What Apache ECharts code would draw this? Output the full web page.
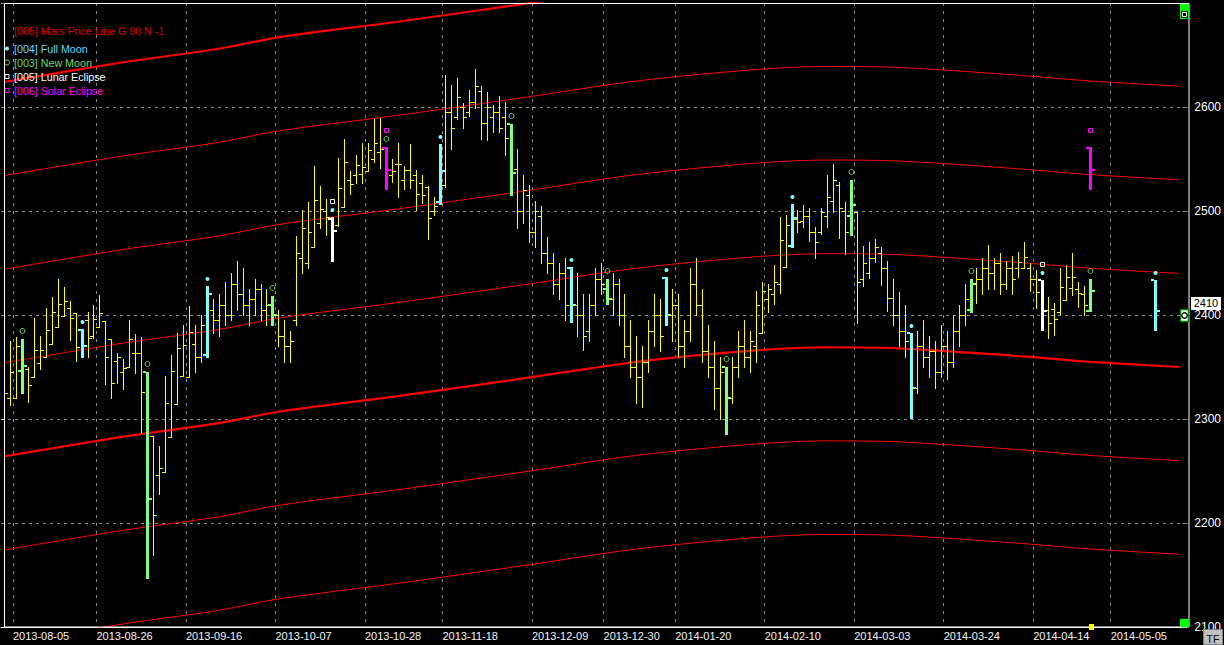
<!DOCTYPE html>
<html><head><meta charset="utf-8">
<script src="https://cdn.jsdelivr.net/npm/echarts/dist/echarts.min.js"></script>
<style>html,body{margin:0;padding:0;background:#000;overflow:hidden}#c{width:1224px;height:645px}</style>
</head><body><div id="c"></div><script>
// ---- categories (trading days) ----
const firstDay = '2013-08-01';
const dayCount = 198;
const holidays = ['2013-08-15','2013-11-01','2013-11-11','2013-12-24','2013-12-25','2013-12-26',
  '2013-12-31','2014-01-01','2014-01-02','2014-04-18','2014-04-21'];
const tickDates = ['2013-08-05','2013-08-26','2013-09-16','2013-10-07','2013-10-28','2013-11-18',
  '2013-12-09','2013-12-30','2014-01-20','2014-02-10','2014-03-03','2014-03-24','2014-04-14','2014-05-05'];
const yMin = 2100, yMax = 2700, yStep = 100;
const lastPrice = 2410;

// ---- price bars [open, high, low, close], index 0 = first trading day ----
const bars = [
[2300,2335,2275,2325],[2320,2375,2313,2345],[2320,2379,2320,2370],[2346,2377,2325,2351],[2348,2350,2316,2333],
[2340,2397,2340,2366],[2354,2380,2348,2366],[2360,2407,2360,2386],[2372,2417,2372,2403],[2388,2435,2388,2411],
[2399,2427,2399,2413],[2407,2413,2376,2397],[2402,2402,2356,2369],[2386,2387,2360,2370],[2395,2403,2360,2378],
[2380,2410,2378,2396],[2388,2419,2388,2402],[2394,2394,2334,2360],[2377,2377,2320,2335],[2356,2363,2335,2360],
[2345,2358,2329,2349],[2350,2395,2350,2377],[2363,2382,2344,2363],[2363,2379,2287,2326],[2345,2345,2147,2223],
[2284,2284,2169,2208],[2246,2274,2228,2253],[2249,2341,2249,2315],[2283,2362,2283,2346],[2314,2383,2314,2368],
[2341,2390,2341,2371],[2340,2409,2340,2384],[2372,2390,2345,2360],[2360,2400,2355,2390],[2362,2428,2360,2420],
[2405,2415,2383,2395],[2395,2420,2380,2410],[2410,2432,2390,2400],[2400,2440,2395,2430],[2430,2452,2405,2420],
[2420,2445,2400,2410],[2410,2425,2390,2415],[2415,2435,2400,2425],[2425,2430,2395,2405],[2405,2425,2390,2410],
[2410,2418,2390,2400],[2400,2405,2370,2380],[2380,2395,2355,2370],[2370,2385,2355,2375],[2395,2476,2390,2460],
[2455,2501,2440,2484],[2450,2509,2445,2480],[2465,2543,2465,2511],[2488,2524,2484,2502],[2500,2512,2477,2494],
[2492,2494,2452,2481],[2487,2551,2486,2522],[2504,2569,2504,2547],[2530,2538,2516,2526],[2535,2554,2527,2544],
[2536,2565,2527,2542],[2538,2565,2538,2559],[2550,2588,2547,2565],[2557,2589,2541,2560],[2561,2562,2521,2539],
[2535,2550,2528,2538],[2545,2565,2513,2545],[2530,2543,2521,2539],[2539,2564,2522,2530],[2535,2539,2501,2516],
[2527,2535,2508,2515],[2523,2524,2473,2493],[2500,2513,2496,2505],[2509,2564,2507,2538],[2525,2631,2523,2595],
[2595,2621,2560,2580],[2590,2628,2588,2610],[2600,2604,2580,2590],[2595,2616,2591,2605],[2605,2637,2599,2620],
[2615,2620,2569,2585],[2585,2614,2568,2600],[2590,2602,2576,2595],[2595,2611,2576,2580],[2590,2605,2554,2570],
[2584,2584,2515,2537],[2540,2560,2484,2500],[2500,2535,2488,2520],[2515,2525,2470,2480],[2480,2510,2465,2500],
[2495,2505,2450,2460],[2460,2475,2440,2450],[2450,2460,2420,2430],[2430,2450,2415,2440],[2440,2455,2395,2410],
[2445,2446,2393,2410],[2410,2440,2380,2400],[2400,2420,2366,2380],[2385,2420,2375,2410],[2410,2445,2400,2435],
[2435,2450,2420,2430],[2425,2435,2411,2415],[2415,2440,2400,2430],[2430,2435,2390,2400],[2400,2420,2360,2370],
[2370,2395,2340,2350],[2350,2380,2315,2340],[2340,2370,2312,2355],[2355,2395,2345,2385],[2385,2420,2370,2400],
[2400,2415,2365,2380],[2436,2437,2390,2400],[2400,2425,2375,2410],[2410,2420,2360,2370],[2370,2395,2350,2385],
[2385,2445,2375,2430],[2430,2455,2400,2410],[2410,2425,2355,2365],[2365,2390,2340,2350],[2350,2375,2310,2330],
[2330,2360,2300,2345],[2350,2350,2286,2320],[2320,2360,2315,2350],[2350,2385,2340,2370],[2370,2395,2350,2360],
[2360,2385,2345,2375],[2370,2423,2355,2410],[2383,2432,2383,2423],[2415,2430,2403,2425],[2420,2448,2411,2432],
[2430,2494,2421,2472],[2446,2496,2446,2487],[2466,2507,2465,2493],[2492,2501,2480,2489],[2490,2506,2485,2495],
[2495,2503,2471,2480],[2480,2485,2455,2470],[2480,2503,2478,2499],[2495,2535,2485,2513],[2510,2545,2499,2530],
[2525,2528,2474,2503],[2500,2509,2459,2480],[2495,2530,2477,2506],[2499,2499,2392,2432],[2435,2466,2428,2450],
[2440,2470,2436,2455],[2455,2473,2451,2465],[2460,2465,2429,2445],[2445,2452,2404,2416],[2416,2435,2390,2400],
[2400,2422,2370,2385],[2385,2410,2360,2375],[2383,2383,2301,2330],[2330,2385,2325,2370],[2370,2395,2350,2360],
[2360,2380,2340,2365],[2365,2375,2330,2345],[2345,2390,2340,2370],[2370,2385,2338,2355],[2355,2400,2350,2385],
[2385,2410,2370,2400],[2400,2430,2390,2415],[2405,2435,2403,2430],[2430,2445,2412,2435],[2435,2455,2420,2445],
[2445,2467,2425,2440],[2440,2455,2425,2450],[2450,2460,2420,2430],[2430,2452,2425,2445],[2445,2457,2420,2435],
[2445,2461,2437,2451],[2445,2470,2445,2456],[2445,2450,2423,2435],[2435,2443,2407,2422],[2434,2434,2386,2404],
[2405,2417,2378,2392],[2406,2412,2381,2396],[2403,2445,2401,2427],[2414,2448,2414,2437],[2426,2460,2419,2437],
[2425,2432,2408,2421],[2420,2428,2400,2410],[2404,2435,2404,2423]
];
// projected full-moon bar [index, open, high, low, close]
const projectedBars = [[193, 2434, 2434, 2386, 2404]];
// solar eclipse overlay bars [index, open, high, low, close]
const solarEclipseBars = [[64, 2561, 2562, 2521, 2539], [182, 2561, 2562, 2521, 2539]];
// event indices
const fullMoonIdx = [13, 34, 55, 73, 95, 111, 132, 152, 174, 193];
const newMoonIdx = [3, 24, 45, 64, 85, 101, 121, 142, 162, 182];
const lunarEclipseIdx = [55, 174];

// ---- Mars price lines (G 90), read at key bar indices ----
const marsKeyIdx   = [0, 20, 36, 46, 66, 87, 106, 126, 138, 150, 169, 182, 197];
const marsLineA = [2084,2103,2116,2127,2142,2159,2175,2186,2189,2188,2181,2175,2170];
const marsLineB = [2174,2193,2206,2217,2232,2249,2265,2276,2279,2278,2271,2265,2260];
const marsLineC = [2264,2283,2296,2307,2322,2339,2355,2366,2369,2368,2361,2355,2350];
const marsLineD = [2354,2373,2386,2397,2412,2429,2445,2456,2459,2458,2451,2445,2440];
const marsLineE = [2444,2463,2476,2487,2502,2519,2535,2546,2549,2548,2541,2535,2530];
const marsLineF = [2534,2553,2566,2577,2592,2609,2625,2636,2639,2638,2631,2625,2620];
const marsLineG = [2624,2643,2656,2667,2682,2699,2715,2726,2729,2728,2721,2715,2710];
const marsLines = [[marsLineA,1],[marsLineB,1],[marsLineC,2.2],[marsLineD,1],[marsLineE,1],[marsLineF,1],[marsLineG,2.2]];

// ---- build ----
function tradingDays(start, n, skip) {
  const out = []; const d = new Date(start + 'T00:00:00Z');
  while (out.length < n) {
    const wd = d.getUTCDay(); const s = d.toISOString().slice(0, 10);
    if (wd !== 0 && wd !== 6 && skip.indexOf(s) < 0) out.push(s);
    d.setUTCDate(d.getUTCDate() + 1);
  }
  return out;
}
const dates = tradingDays(firstDay, dayCount, holidays);
const boundaries = dates.concat(['']);
const labelSet = new Set(tickDates.map(d => dates.indexOf(d)));
const fullSet = new Set(fullMoonIdx), newSet = new Set(newMoonIdx), lunarSet = new Set(lunarEclipseIdx);

const COL = {bar:'#ffff00', full:'#80ffff', nw:'#80ff80', lunar:'#ffffff', solar:'#ff00ff', circ:'#70e070'};

function ohlc(api, idx, o, h, l, c, color, thick, marks) {
  const X = Math.round(api.coord([idx, h])[0]);
  const Y = v => Math.round(api.coord([idx, v])[1]);
  const yH = Y(h), yL = Y(l), yO = Y(o), yC = Y(c);
  const lw = thick ? 3 : 1, half = thick ? 1 : 0, t = 3, th = thick ? 2 : 1, off = thick ? 1 : 0;
  const ch = [
    {type:'rect', shape:{x:X-half, y:yH, width:lw, height:Math.max(1, yL-yH+1)}, style:{fill:color}},
    {type:'rect', shape:{x:X-half-t, y:yO-off, width:t, height:th}, style:{fill:color}},
    {type:'rect', shape:{x:X-half+lw, y:yC-off, width:t, height:th}, style:{fill:color}}
  ];
  const cx = X + 0.5;
  if (marks.full) ch.push({type:'circle', shape:{cx:cx, cy:yH-7, r:2}, style:{fill:COL.full}});
  if (marks.nw) ch.push({type:'circle', shape:{cx:cx, cy:yH-8, r:2.5}, style:{fill:'none', stroke:COL.circ, lineWidth:1}});
  if (marks.lunar) ch.push({type:'rect', shape:{x:cx-2, y:yH-17.5, width:4, height:4}, style:{fill:'none', stroke:COL.lunar, lineWidth:1}});
  if (marks.solar) ch.push({type:'rect', shape:{x:cx-2, y:yH-18.5, width:4, height:4}, style:{fill:'none', stroke:COL.solar, lineWidth:1}});
  return {type:'group', children:ch};
}

const priceData = bars.map((b, i) => [i, b[0], b[1], b[2], b[3]]).concat(projectedBars);

const series = marsLines.map(([vals, w]) => ({
  type:'line', xAxisIndex:0, yAxisIndex:0, symbol:'none', smooth:0.3, silent:true, z:1,
  lineStyle:{color:'#ff0000', width:w}, data: marsKeyIdx.map((k, j) => [k, vals[j]])
}));
series.push({
  type:'custom', xAxisIndex:0, yAxisIndex:0, z:3, silent:true, encode:{x:0, y:[1,2,3,4]}, data: priceData,
  renderItem: (params, api) => {
    const i = api.value(0);
    let color = COL.bar, thick = false;
    if (lunarSet.has(i)) { color = COL.lunar; thick = true; }
    else if (newSet.has(i)) { color = COL.nw; thick = true; }
    else if (fullSet.has(i)) { color = COL.full; thick = true; }
    return ohlc(api, i, api.value(1), api.value(2), api.value(3), api.value(4), color, thick,
      {full: fullSet.has(i), nw: newSet.has(i), lunar: lunarSet.has(i)});
  }
});
series.push({
  type:'custom', xAxisIndex:0, yAxisIndex:0, z:4, silent:true, encode:{x:0, y:[1,2,3,4]}, data: solarEclipseBars,
  renderItem: (params, api) => ohlc(api, api.value(0), api.value(1), api.value(2), api.value(3), api.value(4), COL.solar, true, {solar:true})
});

const FONT = '"Liberation Sans", Arial, sans-serif';
const legendItems = [
  {text:'[005] Mars Price Line G 90 N -1', color:'#dd0000', y:30.5},
  {text:'[004] Full Moon', color:'#66d8ff', y:48.5},
  {text:'[003] New Moon', color:'#70d870', y:62.5},
  {text:'[005] Lunar Eclipse', color:'#ffffff', y:76.5},
  {text:'[006] Solar Eclipse', color:'#ff00ff', y:90.5}
];
const graphics = legendItems.map(it => ({type:'text', z:50, style:{x:14, y:it.y, text:it.text, fill:it.color, font:'10.7px ' + FONT, verticalAlign:'middle'}}));
graphics.push(
  {type:'circle', z:50, shape:{cx:7, cy:48.5, r:2}, style:{fill:COL.full}},
  {type:'circle', z:50, shape:{cx:7, cy:62.5, r:2.5}, style:{fill:'none', stroke:COL.circ, lineWidth:1}},
  {type:'rect', z:50, shape:{x:5, y:74.5, width:4, height:4}, style:{fill:'none', stroke:'#fff', lineWidth:1}},
  {type:'rect', z:50, shape:{x:5, y:88.5, width:4, height:4}, style:{fill:'none', stroke:COL.solar, lineWidth:1}},
  // plot frame
  {type:'rect', z:60, shape:{x:4.5, y:3.5, width:1184.5, height:623.5}, style:{fill:'none', stroke:'#ffffff', lineWidth:1}},
  // corner widgets
  {type:'rect', z:61, shape:{x:1180, y:4, width:9, height:15}, style:{fill:'#00ff00'}},
  {type:'rect', z:62, shape:{x:1181, y:11, width:7, height:7}, style:{fill:'#000'}},
  {type:'rect', z:63, shape:{x:1182.5, y:12.5, width:4, height:4}, style:{fill:'none', stroke:'#fff', lineWidth:1}},
  {type:'rect', z:61, shape:{x:1180, y:619, width:9, height:8}, style:{fill:'#00ff00'}},
  {type:'rect', z:61, shape:{x:1089, y:624, width:5, height:6}, style:{fill:'#ffff00'}},
  {type:'rect', z:61, shape:{x:1203.5, y:629.5, width:19, height:15}, style:{fill:'#c0c0c0', stroke:'#808080', lineWidth:1}},
  {type:'text', z:62, style:{x:1213, y:639, text:'TF', fill:'#000', font:'10.5px ' + FONT, align:'center', verticalAlign:'middle'}}
);

const chart = echarts.init(document.getElementById('c'), null, {renderer:'svg'});
chart.setOption({
  animation:false,
  backgroundColor:'#000',
  grid:{left:1, right:35, top:3, bottom:18, containLabel:false},
  xAxis:[
    {type:'category', data:dates, boundaryGap:true, show:false},
    {type:'category', data:boundaries, boundaryGap:false, position:'bottom',
     axisLine:{show:true, lineStyle:{color:'#ffffff', width:1}}, axisTick:{show:false},
     axisLabel:{interval:(i) => labelSet.has(i), align:'left', color:'#f4f4f4', fontSize:11, fontFamily:FONT, margin:3},
     splitLine:{show:true, interval:(i) => labelSet.has(i), lineStyle:{color:'#8a8a8a', type:[3,5], width:1}}}
  ],
  yAxis:{type:'value', position:'right', min:yMin, max:yMax, interval:yStep,
    axisLine:{show:false}, axisTick:{show:true, length:5, lineStyle:{color:'#8a8a8a'}},
    axisLabel:{color:'#ffffff', fontSize:12, lineHeight:9, padding:[0,0,2,0], fontFamily:FONT, margin:12, formatter:v => v >= yMax ? '' : String(v)},
    splitLine:{show:true, lineStyle:{color:'#8a8a8a', type:[3,4], width:1}}},
  series: series,
  graphic: graphics
});
const py = Math.round(chart.convertToPixel({yAxisIndex:0}, lastPrice));
graphics.push(
  {type:'rect', z:70, shape:{x:1191, y:py-8, width:30, height:13}, style:{fill:'#ffffff'}},
  {type:'text', z:71, style:{x:1206, y:py-2, text:String(lastPrice), fill:'#000', font:'11px ' + FONT, lineHeight:10, align:'center', verticalAlign:'middle'}},
  {type:'rect', z:61, shape:{x:1180.5, y:py+4.5, width:8, height:12}, style:{fill:'#ffffff', stroke:'#008000', lineWidth:1.5}},
  {type:'circle', z:62, shape:{cx:1184.5, cy:py+10.5, r:2.7}, style:{fill:'none', stroke:'#000', lineWidth:1.3}}
);
chart.setOption({graphic: graphics}, {replaceMerge:['graphic']});
</script></body></html>
